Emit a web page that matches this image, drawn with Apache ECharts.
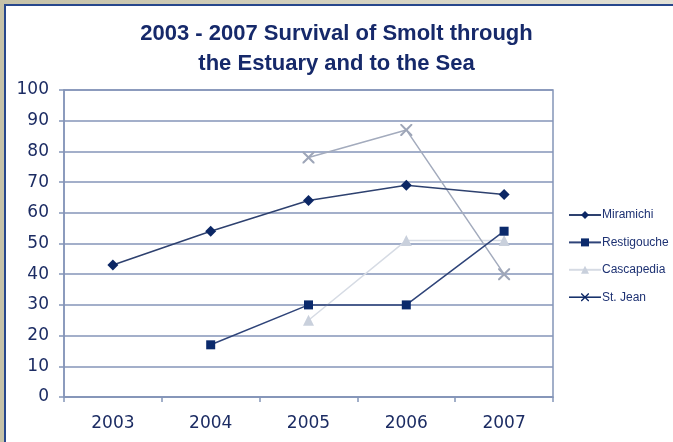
<!DOCTYPE html>
<html>
<head>
<meta charset="utf-8">
<script src="https://cdn.jsdelivr.net/npm/echarts@6/dist/echarts.min.js"></script>
<style>
  html, body { margin: 0; padding: 0; background: #ffffff; }
  #chart { width: 673px; height: 442px; }
</style>
</head>
<body>
<div id="chart"></div>
<script>
// Survival (%) of smolt through the estuary and to the sea, by river
const years = ['2003', '2004', '2005', '2006', '2007'];
const miramichi   = [43, 54, 64, 69, 66];
const restigouche = [null, 17, 30, 30, 54];
const cascapedia  = [null, null, 25, 51, 51];
const stJean      = [null, null, 78, 87, 40];
const yTicks = [0, 10, 20, 30, 40, 50, 60, 70, 80, 90, 100];

const navy = '#0c2765';
const textNavy = '#1c2c63';
const gridBlue = '#8495b8';
const crossPath = 'path://M0,0 L1.2,0 L5,3.8 L8.8,0 L10,0 L10,1.2 L6.2,5 L10,8.8 L10,10 L8.8,10 L5,6.2 L1.2,10 L0,10 L0,8.8 L3.8,5 L0,1.2 Z';

const chart = echarts.init(document.getElementById('chart'), null, { renderer: 'canvas' });

chart.setOption({
  animation: false,
  backgroundColor: '#ffffff',
  graphic: [
    {
      type: 'rect', z: -10, silent: true,
      shape: { x: 0, y: 0, width: 673, height: 442 },
      style: {
        fill: new echarts.graphic.LinearGradient(0, 0, 1, 0, [
          { offset: 0, color: '#c6c2a8' },
          { offset: 1, color: '#e2e1d6' }
        ])
      }
    },
    {
      type: 'rect', z: -9, silent: true,
      shape: { x: 5, y: 5, width: 700, height: 460 },
      style: { fill: '#ffffff', stroke: '#27478c', lineWidth: 2 }
    }
  ],
  title: {
    text: '2003 - 2007 Survival of Smolt through\nthe Estuary and to the Sea',
    left: 'center',
    top: 14,
    textStyle: {
      fontFamily: 'Liberation Sans, Arial, sans-serif',
      fontWeight: 'bold',
      fontSize: 22,
      lineHeight: 30,
      color: '#16296a',
      align: 'center'
    }
  },
  grid: {
    left: 64, right: 120, top: 90, bottom: 45,
    show: true, borderColor: gridBlue, borderWidth: 1.5, backgroundColor: 'transparent'
  },
  legend: {
    orient: 'vertical',
    left: 563,
    top: 204,
    itemGap: 15.4,
    itemWidth: 32,
    itemHeight: 10,
    textStyle: {
      fontFamily: 'Liberation Sans, Arial, sans-serif',
      fontSize: 12,
      color: '#1e3273',
      padding: [0, 0, 0, -4]
    },
    data: [
      { name: 'Miramichi' },
      { name: 'Restigouche' },
      { name: 'Cascapedia' },
      { name: 'St. Jean', itemStyle: { color: navy }, lineStyle: { color: navy, width: 1.5 } }
    ]
  },
  xAxis: {
    type: 'category',
    data: years,
    boundaryGap: true,
    axisLine: { lineStyle: { color: gridBlue, width: 1.5 } },
    axisTick: { show: true, inside: false, length: 5, lineStyle: { color: gridBlue, width: 1.5 } },
    axisLabel: {
      margin: 18,
      fontFamily: 'DejaVu Sans, Verdana, sans-serif',
      fontSize: 17,
      color: textNavy
    }
  },
  yAxis: {
    type: 'value',
    min: yTicks[0],
    max: yTicks[yTicks.length - 1],
    interval: 10,
    axisLine: { show: true, lineStyle: { color: gridBlue, width: 1.5 } },
    axisTick: { show: true, length: 5, lineStyle: { color: gridBlue, width: 1.5 } },
    splitLine: { lineStyle: { color: gridBlue, width: 1.5 } },
    axisLabel: {
      margin: 15,
      fontFamily: 'DejaVu Sans, Verdana, sans-serif',
      fontSize: 17,
      color: textNavy
    }
  },
  series: [
    {
      name: 'Miramichi', type: 'line', data: miramichi,
      symbol: 'diamond', symbolSize: 11,
      itemStyle: { color: navy },
      lineStyle: { color: '#2e416f', width: 1.5 },
      z: 5
    },
    {
      name: 'Restigouche', type: 'line', data: restigouche,
      symbol: 'rect', symbolSize: 9,
      itemStyle: { color: '#0b2a6c' },
      lineStyle: { color: '#2f4479', width: 1.5 },
      z: 4
    },
    {
      name: 'Cascapedia', type: 'line', data: cascapedia,
      symbol: 'triangle', symbolSize: 11,
      itemStyle: { color: '#c9d0dc' },
      lineStyle: { color: '#d6dbe4', width: 1.5 },
      z: 3
    },
    {
      name: 'St. Jean', type: 'line', data: stJean,
      symbol: crossPath, symbolSize: 12,
      itemStyle: { color: '#9ea6b8' },
      lineStyle: { color: '#a3abbd', width: 1.5 },
      z: 3
    }
  ]
});
</script>
</body>
</html>
